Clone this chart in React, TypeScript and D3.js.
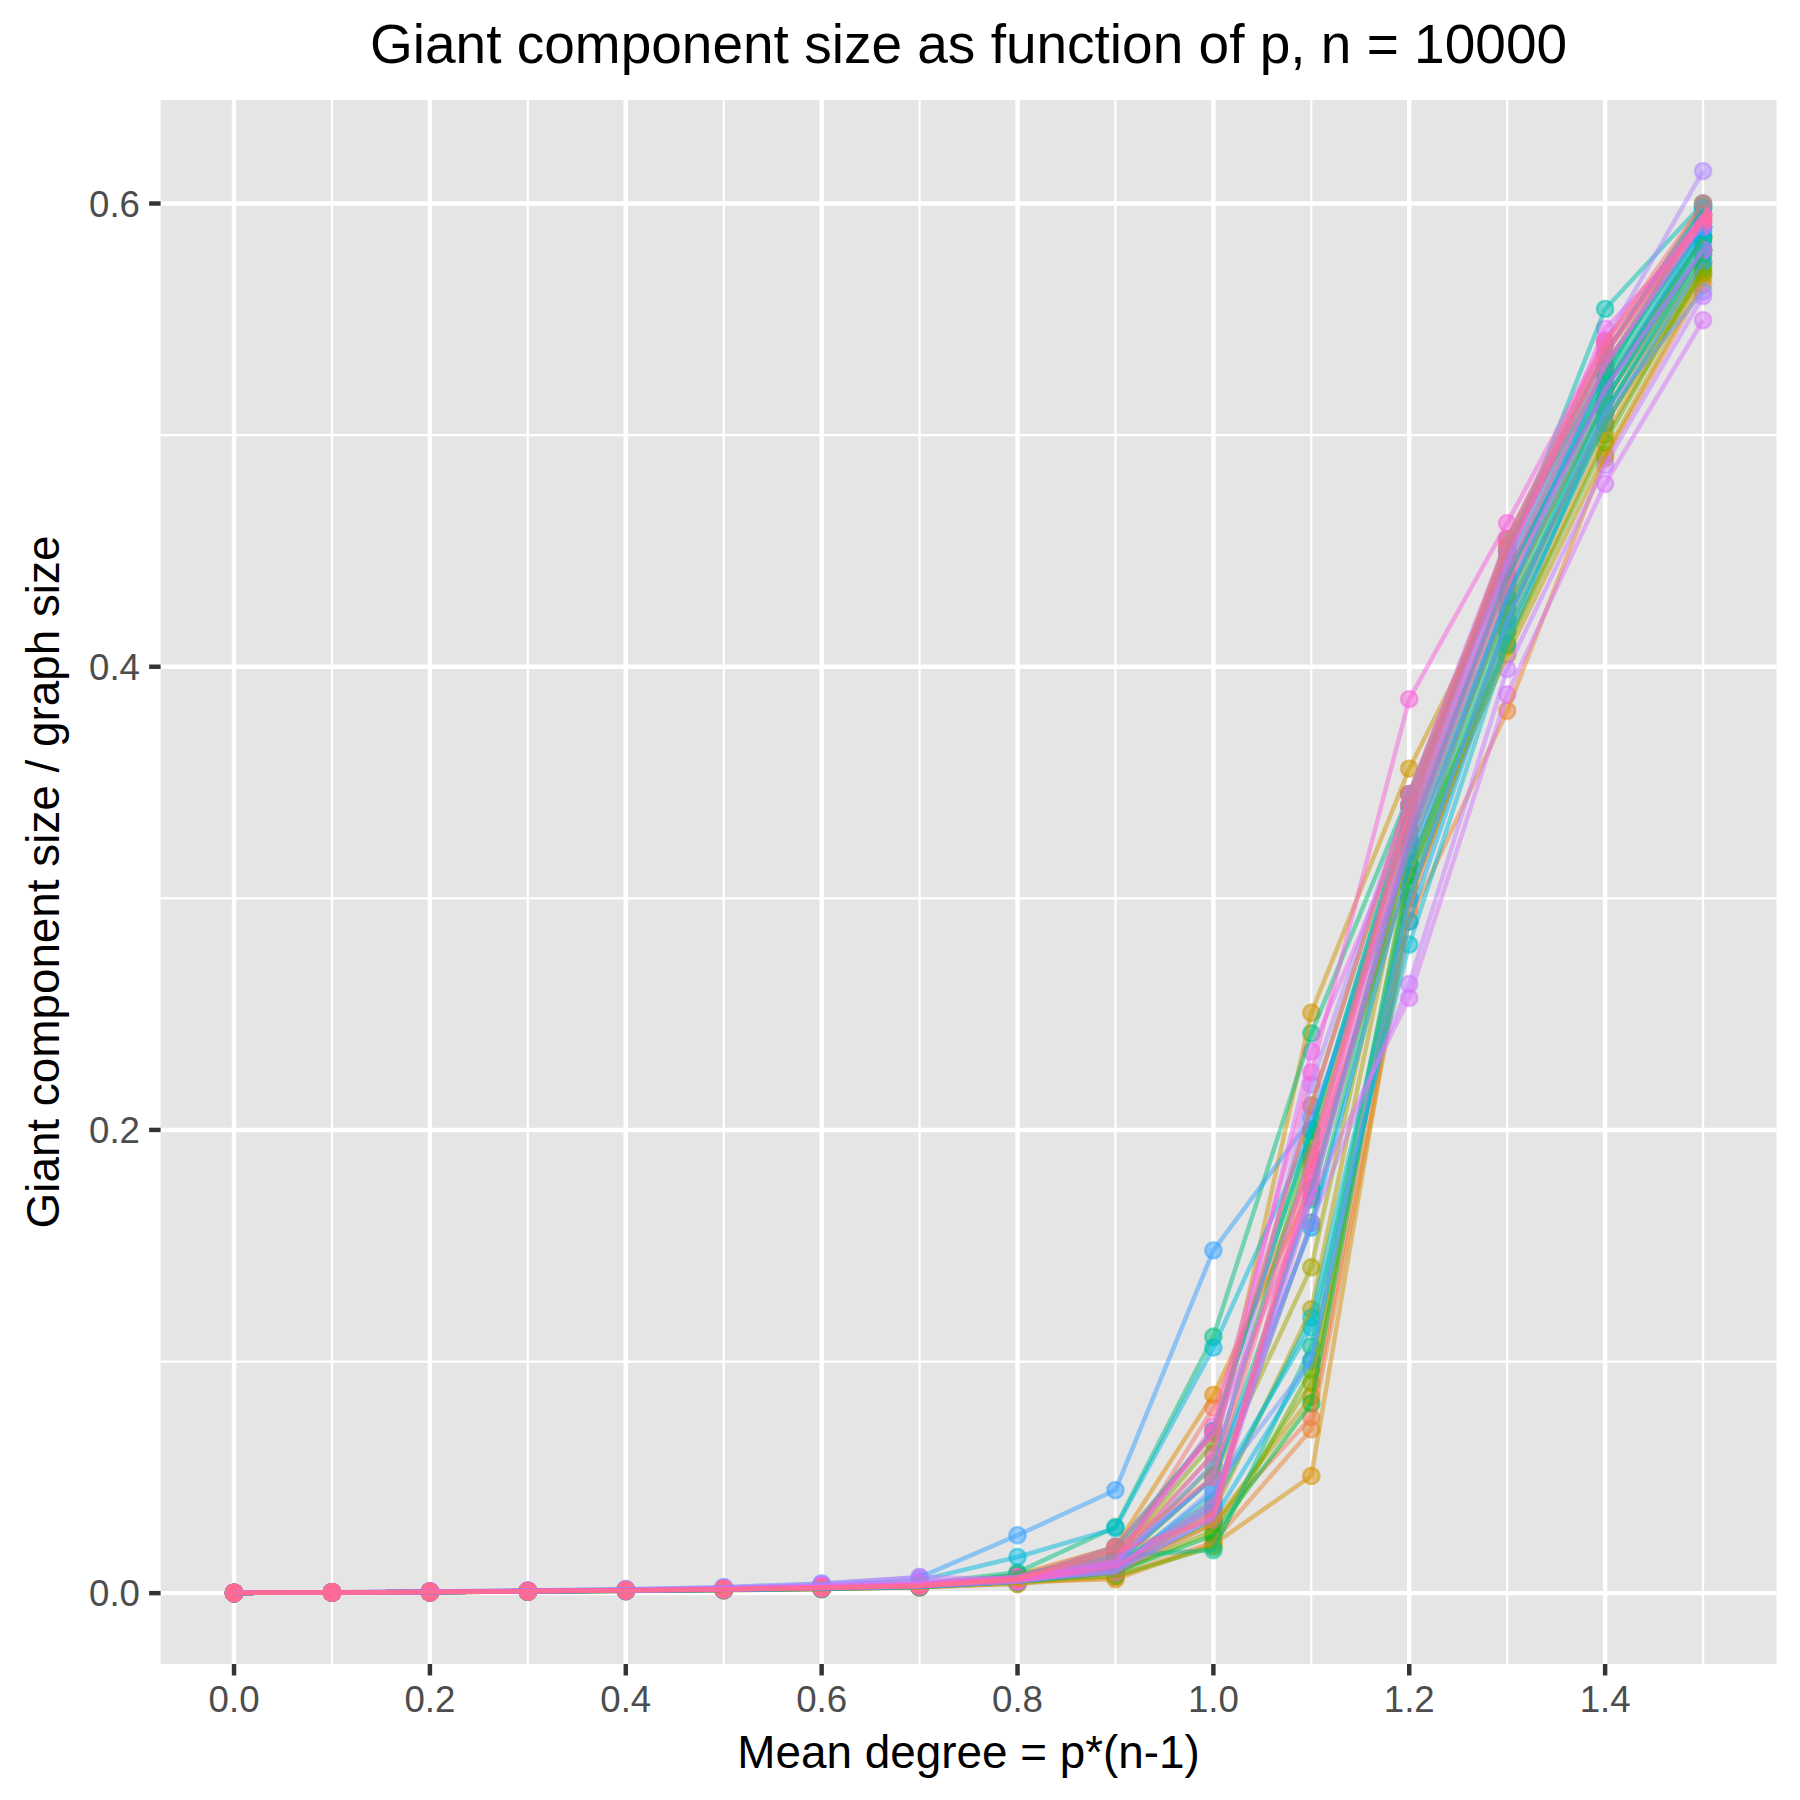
import React, { useEffect } from 'react';
import * as d3 from 'd3';

// mean degree values on the x axis
const meanDegree = [0, 0.1, 0.2, 0.3, 0.4, 0.5, 0.6, 0.7, 0.8, 0.9, 1.0, 1.1, 1.2, 1.3, 1.4, 1.5];

// one row per simulation run: giant component size / graph size at each mean degree
const runs: number[][] = [
  [0.0001, 0.0003, 0.0005, 0.0008, 0.0011, 0.0015, 0.0021, 0.0029, 0.006, 0.012, 0.080, 0.185, 0.310, 0.430, 0.515, 0.580],
  [0.0001, 0.0002, 0.0005, 0.0007, 0.0010, 0.0014, 0.0019, 0.0026, 0.005, 0.009, 0.030, 0.0759, 0.295, 0.420, 0.510, 0.575],
  [0.0001, 0.0003, 0.0004, 0.0007, 0.0010, 0.0013, 0.0018, 0.0025, 0.004, 0.007, 0.022, 0.0707, 0.290, 0.381, 0.490, 0.565],
  [0.0001, 0.0003, 0.0005, 0.0008, 0.0012, 0.0017, 0.0024, 0.0033, 0.008, 0.020, 0.0856, 0.175, 0.320, 0.425, 0.505, 0.573],
  [0.0001, 0.0002, 0.0004, 0.0007, 0.0010, 0.0013, 0.0018, 0.0026, 0.005, 0.006, 0.021, 0.0506, 0.300, 0.410, 0.500, 0.570],
  [0.0001, 0.0003, 0.0005, 0.0009, 0.0012, 0.0017, 0.0023, 0.0032, 0.007, 0.015, 0.060, 0.2506, 0.356, 0.440, 0.520, 0.585],
  [0.0001, 0.0003, 0.0005, 0.0008, 0.0011, 0.0015, 0.0020, 0.0028, 0.006, 0.011, 0.030, 0.0849, 0.310, 0.405, 0.4917, 0.568],
  [0.0001, 0.0003, 0.0005, 0.0008, 0.0011, 0.0015, 0.0021, 0.0029, 0.005, 0.010, 0.035, 0.1226, 0.325, 0.430, 0.515, 0.580],
  [0.0001, 0.0003, 0.0005, 0.0008, 0.0012, 0.0016, 0.0022, 0.0031, 0.006, 0.012, 0.050, 0.1407, 0.330, 0.435, 0.520, 0.585],
  [0.0001, 0.0002, 0.0004, 0.0007, 0.0010, 0.0014, 0.0019, 0.0027, 0.004, 0.009, 0.027, 0.0908, 0.300, 0.415, 0.505, 0.570],
  [0.0001, 0.0003, 0.0005, 0.0009, 0.0012, 0.0017, 0.0024, 0.0034, 0.007, 0.016, 0.065, 0.2107, 0.345, 0.452, 0.530, 0.595],
  [0.0001, 0.0002, 0.0004, 0.0007, 0.0009, 0.0013, 0.0018, 0.0025, 0.005, 0.0075, 0.020, 0.0964, 0.315, 0.409, 0.497, 0.572],
  [0.0001, 0.0003, 0.0005, 0.0008, 0.0012, 0.0016, 0.0022, 0.0031, 0.006, 0.014, 0.055, 0.195, 0.335, 0.455, 0.535, 0.5995],
  [0.0001, 0.0003, 0.0005, 0.0007, 0.0010, 0.0014, 0.0020, 0.0028, 0.005, 0.009, 0.025, 0.0819, 0.305, 0.420, 0.510, 0.578],
  [0.0001, 0.0003, 0.0005, 0.0009, 0.0013, 0.0018, 0.0025, 0.0035, 0.007, 0.018, 0.070, 0.200, 0.340, 0.450, 0.528, 0.590],
  [0.0001, 0.0003, 0.0005, 0.0008, 0.0011, 0.0015, 0.0021, 0.0030, 0.006, 0.012, 0.040, 0.160, 0.325, 0.438, 0.522, 0.586],
  [0.0001, 0.0003, 0.0006, 0.0009, 0.0013, 0.0019, 0.0027, 0.0040, 0.009, 0.0286, 0.1107, 0.2417, 0.345, 0.445, 0.525, 0.598],
  [0.0001, 0.0003, 0.0005, 0.0008, 0.0012, 0.0016, 0.0023, 0.0033, 0.008, 0.016, 0.0186, 0.1065, 0.310, 0.425, 0.515, 0.585],
  [0.0001, 0.0003, 0.0005, 0.0008, 0.0012, 0.0016, 0.0022, 0.0031, 0.007, 0.013, 0.050, 0.170, 0.330, 0.440, 0.525, 0.590],
  [0.0001, 0.0003, 0.0005, 0.0009, 0.0013, 0.0018, 0.0025, 0.0036, 0.006, 0.020, 0.070, 0.200, 0.335, 0.447, 0.5545, 0.600],
  [0.0001, 0.0003, 0.0005, 0.0008, 0.0011, 0.0015, 0.0021, 0.0030, 0.006, 0.012, 0.038, 0.119, 0.300, 0.420, 0.515, 0.583],
  [0.0001, 0.0003, 0.0005, 0.0008, 0.0011, 0.0015, 0.0020, 0.0029, 0.005, 0.011, 0.043, 0.1147, 0.280, 0.410, 0.510, 0.580],
  [0.0001, 0.0003, 0.0006, 0.0010, 0.0015, 0.0022, 0.0033, 0.0055, 0.0156, 0.028, 0.106, 0.1995, 0.340, 0.450, 0.535, 0.598],
  [0.0001, 0.0002, 0.0004, 0.0007, 0.0010, 0.0014, 0.0019, 0.0027, 0.005, 0.010, 0.032, 0.1005, 0.290, 0.415, 0.505, 0.575],
  [0.0001, 0.0003, 0.0005, 0.0008, 0.0011, 0.0015, 0.0021, 0.0030, 0.005, 0.010, 0.037, 0.175, 0.325, 0.440, 0.520, 0.580],
  [0.0001, 0.0003, 0.0005, 0.0008, 0.0012, 0.0016, 0.0022, 0.0031, 0.006, 0.013, 0.050, 0.1578, 0.315, 0.430, 0.520, 0.588],
  [0.0001, 0.0004, 0.0007, 0.0011, 0.0017, 0.0026, 0.0042, 0.0068, 0.025, 0.0445, 0.148, 0.205, 0.320, 0.430, 0.530, 0.590],
  [0.0001, 0.0003, 0.0005, 0.0007, 0.0010, 0.0014, 0.0020, 0.0028, 0.005, 0.009, 0.045, 0.1005, 0.300, 0.420, 0.510, 0.562],
  [0.0001, 0.0003, 0.0005, 0.0008, 0.0012, 0.0016, 0.0023, 0.0033, 0.006, 0.012, 0.056, 0.190, 0.330, 0.445, 0.530, 0.592],
  [0.0001, 0.0003, 0.0006, 0.0010, 0.0014, 0.0020, 0.0030, 0.0045, 0.007, 0.014, 0.050, 0.2196, 0.345, 0.455, 0.540, 0.614],
  [0.0001, 0.0003, 0.0005, 0.0008, 0.0012, 0.0017, 0.0025, 0.0038, 0.005, 0.011, 0.040, 0.160, 0.263, 0.399, 0.487, 0.560],
  [0.0001, 0.0004, 0.0007, 0.0011, 0.0016, 0.0024, 0.0040, 0.0070, 0.006, 0.009, 0.033, 0.1712, 0.257, 0.388, 0.479, 0.5496],
  [0.0001, 0.0003, 0.0006, 0.0010, 0.0014, 0.0021, 0.0032, 0.0050, 0.006, 0.013, 0.060, 0.2338, 0.335, 0.445, 0.546, 0.590],
  [0.0001, 0.0003, 0.0005, 0.0009, 0.0013, 0.0019, 0.0028, 0.0040, 0.007, 0.016, 0.069, 0.1712, 0.325, 0.435, 0.520, 0.580],
  [0.0001, 0.0003, 0.0005, 0.0008, 0.0012, 0.0017, 0.0024, 0.0034, 0.006, 0.014, 0.072, 0.2248, 0.386, 0.462, 0.541, 0.595],
  [0.0001, 0.0003, 0.0005, 0.0008, 0.0011, 0.0016, 0.0022, 0.0031, 0.006, 0.012, 0.037, 0.1817, 0.340, 0.448, 0.535, 0.595],
  [0.0001, 0.0003, 0.0005, 0.0008, 0.0011, 0.0015, 0.0021, 0.0030, 0.005, 0.011, 0.0345, 0.1787, 0.330, 0.440, 0.530, 0.592],
  [0.0001, 0.0003, 0.0005, 0.0009, 0.0013, 0.0018, 0.0025, 0.0035, 0.007, 0.020, 0.069, 0.210, 0.345, 0.452, 0.538, 0.594],
  [0.0001, 0.0003, 0.0005, 0.0008, 0.0012, 0.0016, 0.0022, 0.0031, 0.006, 0.018, 0.0316, 0.1876, 0.335, 0.450, 0.535, 0.593],
  [0.0001, 0.0003, 0.0005, 0.0008, 0.0012, 0.0016, 0.0022, 0.0031, 0.006, 0.019, 0.050, 0.190, 0.340, 0.455, 0.540, 0.600],
];

const xBreaks = [0, 0.2, 0.4, 0.6, 0.8, 1.0, 1.2, 1.4];
const xMinorBreaks = [0.1, 0.3, 0.5, 0.7, 0.9, 1.1, 1.3, 1.5];
const yBreaks = [0, 0.2, 0.4, 0.6];
const yMinorBreaks = [0.1, 0.3, 0.5];

const title = 'Giant component size as function of p, n = 10000';
const xTitle = 'Mean degree = p*(n-1)';
const yTitle = 'Giant component size / graph size';

const W = 1800;
const H = 1800;
const panel = { left: 160.6, right: 1776.5, top: 100, bottom: 1664 };
const FONT = '"Liberation Sans", Arial, Helvetica, sans-serif';

// ggplot's default hue palette: hcl() in polar CIE-LUV, c = 100, l = 65
function hclLuv(h: number, c: number, l: number) {
  const hr = (h * Math.PI) / 180;
  const u = c * Math.cos(hr);
  const v = c * Math.sin(hr);
  const Xn = 95.047, Yn = 100, Zn = 108.883;
  const Y = l > 8 ? Yn * Math.pow((l + 16) / 116, 3) : (Yn * l) / 903.3;
  const t = Xn + 15 * Yn + 3 * Zn;
  const uu = u / (13 * l) + (4 * Xn) / t;
  const vv = v / (13 * l) + (9 * Yn) / t;
  const X = (9 * Y * uu) / (4 * vv);
  const Z = (Y * (12 - 3 * uu - 20 * vv)) / (4 * vv);
  const x = X / 100, y = Y / 100, z = Z / 100;
  const lin = [
    3.2404542 * x - 1.5371385 * y - 0.4985314 * z,
    -0.969266 * x + 1.8760108 * y + 0.041556 * z,
    0.0556434 * x - 0.2040259 * y + 1.0572252 * z,
  ];
  const [r, g, b] = lin.map(c0 => {
    const s = c0 <= 0.0031308 ? 12.92 * c0 : 1.055 * Math.pow(c0, 1 / 2.4) - 0.055;
    return Math.round(Math.max(0, Math.min(1, s)) * 255);
  });
  return d3.rgb(r, g, b).formatHex();
}

function huePal(n: number) {
  const out: string[] = [];
  for (let i = 0; i < n; i++) out.push(hclLuv(15 + (360 / n) * i, 100, 65));
  return out;
}

export default function App() {
  useEffect(() => {
    document.body.style.margin = '0';
  }, []);

  const allY = runs.flat();
  const [yMin, yMax] = d3.extent(allY) as [number, number];
  const yPad = (yMax - yMin) * 0.05;
  const xPad = (1.5 - 0) * 0.05;

  const x = d3.scaleLinear().domain([0 - xPad, 1.5 + xPad]).range([panel.left, panel.right]);
  const y = d3.scaleLinear().domain([yMin - yPad, yMax + yPad]).range([panel.bottom, panel.top]);

  const colors = huePal(runs.length);
  const line = d3.line<number>()
    .x((_, i) => x(meanDegree[i]))
    .y(d => y(d));
  const fmt = d3.format('.1f');

  const tickLen = 11.46;
  const gridMajor = 4.45;
  const gridMinor = 2.22;
  const alpha = 0.5;

  return (
    <svg width={W} height={H} style={{ display: 'block' }} fontFamily={FONT}>
      <rect x={0} y={0} width={W} height={H} fill="#ffffff" />
      <rect x={panel.left} y={panel.top} width={panel.right - panel.left} height={panel.bottom - panel.top} fill="#E5E5E5" />

      {/* grid */}
      {yMinorBreaks.map(v => (
        <line key={'ym' + v} x1={panel.left} x2={panel.right} y1={y(v)} y2={y(v)} stroke="#fff" strokeWidth={gridMinor} />
      ))}
      {xMinorBreaks.map(v => (
        <line key={'xm' + v} y1={panel.top} y2={panel.bottom} x1={x(v)} x2={x(v)} stroke="#fff" strokeWidth={gridMinor} />
      ))}
      {yBreaks.map(v => (
        <line key={'yM' + v} x1={panel.left} x2={panel.right} y1={y(v)} y2={y(v)} stroke="#fff" strokeWidth={gridMajor} />
      ))}
      {xBreaks.map(v => (
        <line key={'xM' + v} y1={panel.top} y2={panel.bottom} x1={x(v)} x2={x(v)} stroke="#fff" strokeWidth={gridMajor} />
      ))}

      {/* points then lines */}
      <g>
        {runs.map((run, k) =>
          run.map((v, i) => (
            <circle key={`p${k}-${i}`} cx={x(meanDegree[i])} cy={y(v)} r={8.2}
              fill={colors[k]} fillOpacity={alpha} stroke={colors[k]} strokeOpacity={alpha} strokeWidth={2.4} />
          ))
        )}
      </g>
      <g fill="none">
        {runs.map((run, k) => (
          <path key={'l' + k} d={line(run) || ''} stroke={colors[k]} strokeOpacity={alpha}
            strokeWidth={4.45} strokeLinejoin="round" strokeLinecap="butt" />
        ))}
      </g>

      {/* axes */}
      {yBreaks.map(v => (
        <g key={'yt' + v}>
          <line x1={panel.left - tickLen} x2={panel.left} y1={y(v)} y2={y(v)} stroke="#333333" strokeWidth={gridMajor} />
          <text x={panel.left - tickLen - 9.17} y={y(v) + 13.1} textAnchor="end" fontSize={36.67} fill="#4D4D4D">{fmt(v)}</text>
        </g>
      ))}
      {xBreaks.map(v => (
        <g key={'xt' + v}>
          <line x1={x(v)} x2={x(v)} y1={panel.bottom} y2={panel.bottom + tickLen} stroke="#333333" strokeWidth={gridMajor} />
          <text x={x(v)} y={1712} textAnchor="middle" fontSize={36.67} fill="#4D4D4D">{fmt(v)}</text>
        </g>
      ))}

      <text x={(panel.left + panel.right) / 2} y={63} textAnchor="middle" fontSize={55} fill="#000">{title}</text>
      <text x={(panel.left + panel.right) / 2} y={1768} textAnchor="middle" fontSize={45.83} fill="#000">{xTitle}</text>
      <text transform={`translate(59,${(panel.top + panel.bottom) / 2}) rotate(-90)`} textAnchor="middle" fontSize={45.83} fill="#000">{yTitle}</text>
    </svg>
  );
}
